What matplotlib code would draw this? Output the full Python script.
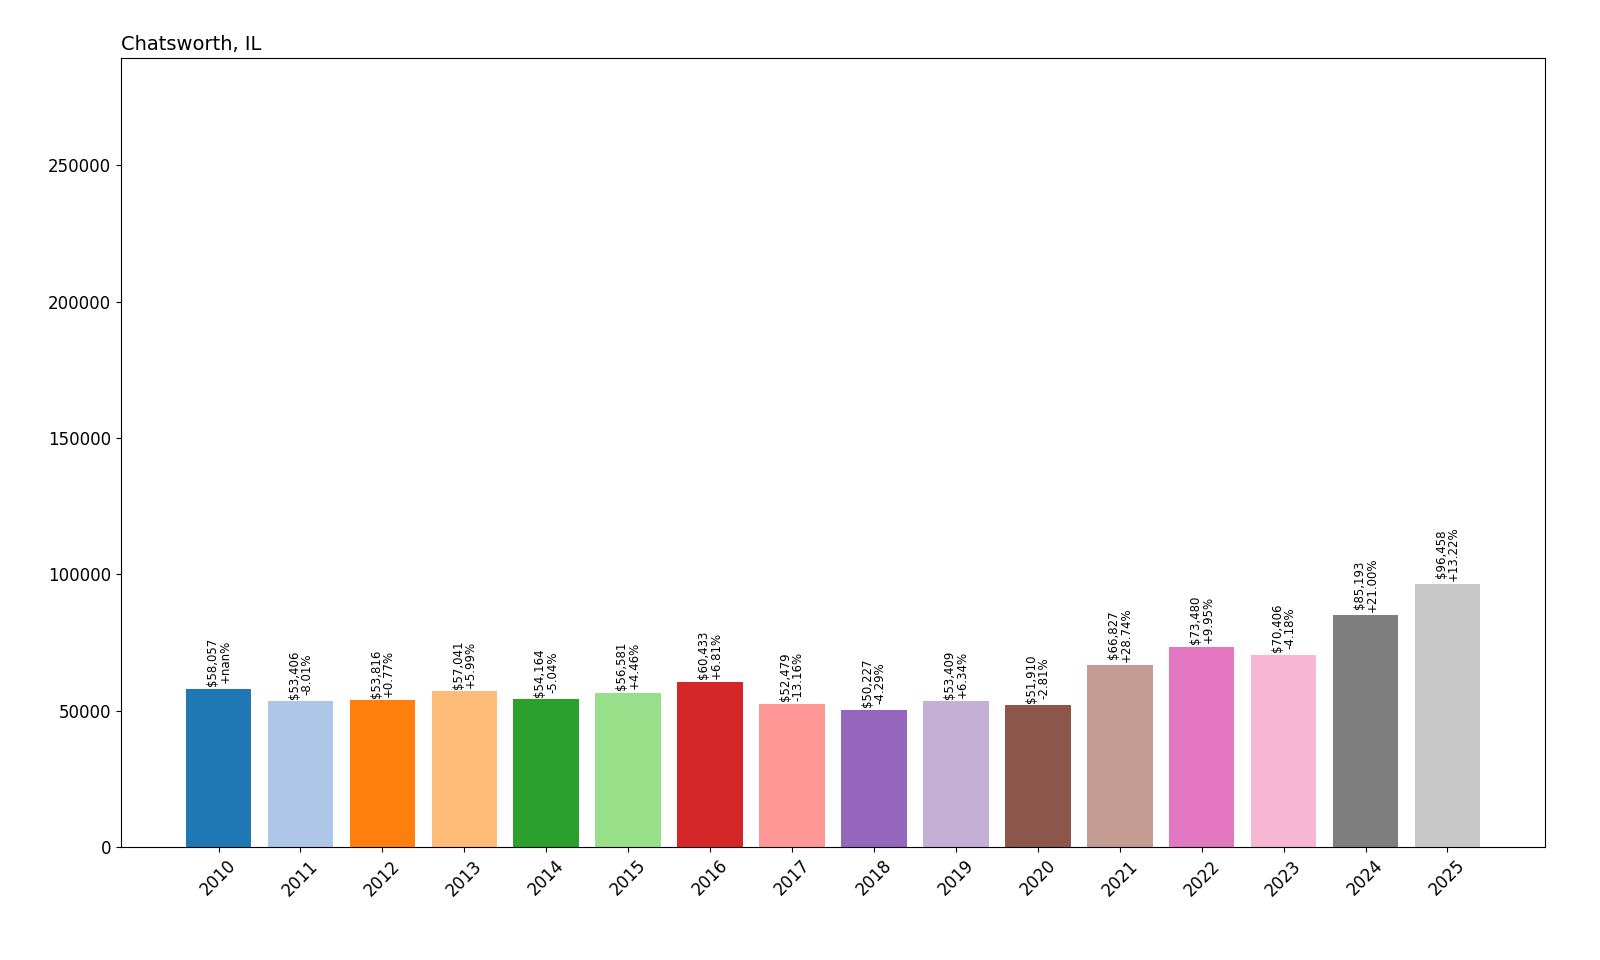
import matplotlib
matplotlib.use("Agg")
import matplotlib.pyplot as plt

years = [str(y) for y in range(2010, 2026)]
values = [58057, 53406, 53816, 57041, 54164, 56581, 60433, 52479, 50227, 53409, 51910, 66827, 73480, 70406, 85193, 96458]
changes = ["+nan%", "-8.01%", "+0.77%", "+5.99%", "-5.04%", "+4.46%", "+6.81%", "-13.16%", "-4.29%", "+6.34%", "-2.81%", "+28.74%", "+9.95%", "-4.18%", "+21.00%", "+13.22%"]

fig = plt.figure(figsize=(16, 9.6), dpi=100)
ax = fig.add_axes([121/1600, 1-847/960, (1545-121)/1600, (847-58)/960])
colors = plt.cm.tab20.colors
bars = ax.bar(years, values, color=[colors[i % 20] for i in range(len(values))])
for b, v, c in zip(bars, values, changes):
    ax.text(b.get_x() + b.get_width()/2, v + 1000, f"${v:,}\n{c}", rotation=90,
            ha="center", va="bottom", fontsize=8.5, linespacing=0.95)
ax.set_ylim(0, max(values) * 3)
ax.set_title("Chatsworth, IL", loc="left", fontsize=14)
ax.tick_params(axis="both", labelsize=12)
plt.setp(ax.get_xticklabels(), rotation=45)
fig.savefig("out.png", dpi=100)
